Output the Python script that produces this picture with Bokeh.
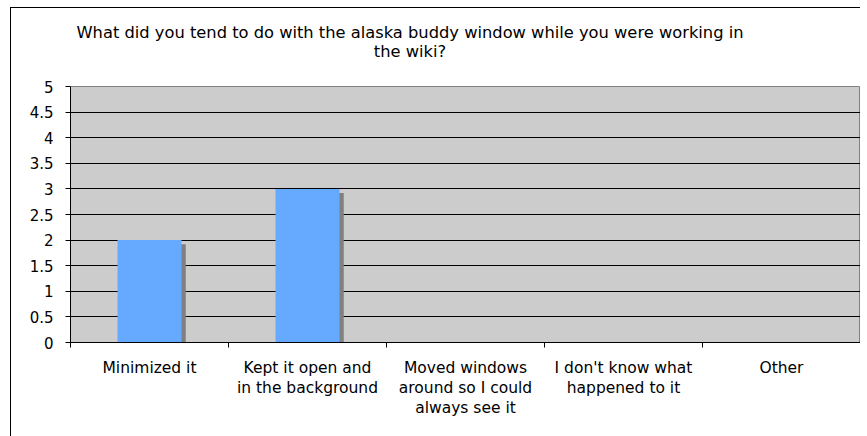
from bokeh.plotting import figure
from bokeh.layouts import column
from bokeh.models import (Range1d, FactorRange, LinearAxis, CategoricalAxis, FixedTicker,
                          Div, ColumnDataSource)
from bokeh.transform import dodge
from bokeh.embed import file_html
from bokeh.resources import INLINE

categories = ["Minimized it", "Kept it open and\nin the background",
              "Moved windows\naround so I could\nalways see it",
              "I don't know what\nhappened to it", "Other"]
values = [2, 3, 0, 0, 0]
y_ticks = [0, 0.5, 1, 1.5, 2, 2.5, 3, 3.5, 4, 4.5, 5]
y_tick_labels = ["0", "0.5", "1", "1.5", "2", "2.5", "3", "3.5", "4", "4.5", "5"]
title_lines = ["What did you tend to do with the alaska buddy window while you were working in",
               "the wiki?"]

FONT = "DejaVu Sans"

source = ColumnDataSource(dict(cat=categories, val=values,
                               shadow=[v - 0.08 if v > 0 else 0 for v in values]))

p = figure(x_range=FactorRange(*categories), y_range=Range1d(0, 5),
           width=849, height=358, output_backend="svg", toolbar_location=None,
           x_axis_location=None, title=None, margin=0,
           min_border_left=59, min_border_right=0,
           min_border_top=8, min_border_bottom=94)

p.background_fill_color = "#CCCCCC"
p.border_fill_color = "white"
p.outline_line_color = "#808080"
p.outline_line_width = 1

# shadow then bar
p.vbar(x=dodge("cat", 0.027, range=p.x_range), top="shadow", width=0.405, source=source,
       fill_color="#808080", line_color=None)
p.vbar(x="cat", top="val", width=0.405, source=source,
       fill_color="#66AAFF", line_color=None)

# y axis
yax = p.yaxis[0]
yax.ticker = FixedTicker(ticks=y_ticks)
yax.major_label_overrides = {float(t): l for t, l in zip(y_ticks, y_tick_labels)}
yax.major_label_text_font = FONT
yax.major_label_text_font_size = "15px"
yax.major_label_text_color = "black"
yax.major_tick_out = 5
yax.major_tick_in = 0
yax.minor_tick_line_color = None
yax.axis_line_color = "black"
yax.major_tick_line_color = "black"
yax.major_label_standoff = 12

p.ygrid.ticker = FixedTicker(ticks=y_ticks)
p.ygrid.grid_line_color = "black"
p.ygrid.grid_line_width = 1
p.xgrid.grid_line_color = None

# x axis: ticks at category boundaries (synthetic coordinates of the factor range)
edge_ticks = list(range(len(categories) + 1))
tick_axis = LinearAxis(ticker=FixedTicker(ticks=edge_ticks),
                       major_label_overrides={float(t): "" for t in edge_ticks},
                       major_tick_out=5, major_tick_in=0,
                       minor_tick_line_color=None,
                       major_label_text_font_size="0px",
                       major_label_standoff=0,
                       axis_line_color="black", major_tick_line_color="black")
p.add_layout(tick_axis, "below")

cat_axis = CategoricalAxis(axis_line_color=None, major_tick_line_color=None,
                           major_label_text_font=FONT, major_label_text_font_size="15.5px",
                           major_label_text_color="black",
                           major_label_text_line_height=1.12,
                           major_label_standoff=5)
p.add_layout(cat_axis, "below")

# two-line centred title above the plot
title_html = ('<div style="width:798px;font-family:\'DejaVu Sans\';font-size:16.3px;line-height:19px;'
              'text-align:center;color:#000;padding-top:15px;white-space:nowrap;">'
              + title_lines[0] + '<br>' + title_lines[1] + '</div>')
title_div = Div(text=title_html, width=798, height=70, margin=0)

layout = column(title_div, p, spacing=0,
                styles={"margin-left": "10px", "margin-top": "7px",
                        "border-left": "1px solid black", "border-top": "1px solid black"})

open("out.html", "w").write(file_html(layout, INLINE))
